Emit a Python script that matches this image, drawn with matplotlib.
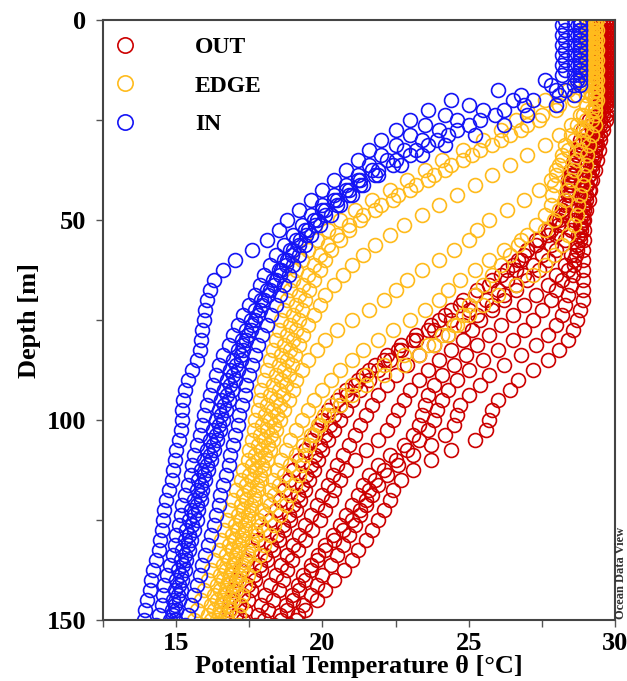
import matplotlib
matplotlib.use('Agg')
import matplotlib.pyplot as plt
from matplotlib.ticker import FixedLocator

plt.rcParams['font.family'] = ['Liberation Serif', 'DejaVu Serif']
plt.rcParams['font.weight'] = 'bold'

# depth levels [m] of the two sampling grids used by the casts
depth_a = [0, 2.5, 5, 7.5, 10, 12.5, 15, 17.5, 20, 22.5,
           25, 27.5, 30, 32.5, 35, 37.5, 40, 42.5, 45, 47.5,
           50, 52.5, 55, 57.5, 60, 62.5, 65, 67.5, 70, 72.5,
           75, 77.5, 80, 82.5, 85, 87.5, 90, 92.5, 95, 97.5,
           100, 102.5, 105, 107.5, 110, 112.5, 115, 117.5, 120, 122.5,
           125, 127.5, 130, 132.5, 135, 137.5, 140, 142.5, 145, 147.5,
           150]
depth_b = [1.25, 3.75, 6.25, 8.75, 11.25, 13.75, 16.25, 18.75, 21.25, 23.75,
           26.25, 28.75, 31.25, 33.75, 36.25, 38.75, 41.25, 43.75, 46.25, 48.75,
           51.25, 53.75, 56.25, 58.75, 61.25, 63.75, 66.25, 68.75, 71.25, 73.75,
           76.25, 78.75, 81.25, 83.75, 86.25, 88.75, 91.25, 93.75, 96.25, 98.75,
           101.25, 103.75, 106.25, 108.75, 111.25, 113.75, 116.25, 118.75, 121.25, 123.75,
           126.25, 128.75, 131.25, 133.75, 136.25, 138.75, 141.25, 143.75, 146.25, 148.75,
           151.25]

# ---------------- OUT (red) profiles: potential temperature [degC]
out_1 = [29.8, 29.8, 29.8, 29.8, 29.8, 29.8, 29.8, 29.8, 29.8, 29.75,
         29.7, 29.6, 29.5, 29.45, 29.4, 29.3, 29.2, 29.15, 29.1, 29.0,
         28.95, 28.95, 28.95, 28.9, 28.9, 28.9, 28.9, 28.9, 28.9, 28.8,
         28.7, 28.55, 28.4, 28.1, 27.7, 27.2, 26.7, 26.4, 26.0, 25.8,
         25.7, 25.6, 25.2, 24.4, 23.7, 23.1, 22.7, 22.4, 22.3, 22.1,
         21.9, 21.7, 21.5, 21.2, 21.0, 20.75, 20.4, 20.1, 19.8, 19.4,
         19.1]
out_9 = [29.8, 29.8, 29.8, 29.8, 29.8, 29.8, 29.8, 29.8, 29.8, 29.7,
         29.6, 29.5, 29.4, 29.3, 29.2, 29.1, 29.0, 28.95, 28.9, 28.85,
         28.8, 28.75, 28.7, 28.65, 28.6, 28.55, 28.5, 28.4, 28.3, 28.2,
         28.0, 27.7, 27.3, 26.8, 26.2, 25.7, 25.4, 25.0, 24.7, 24.6,
         24.5, 24.2, 23.7, 23.1, 22.6, 22.2, 21.9, 21.7, 21.5, 21.3,
         21.1, 20.9, 20.7, 20.5, 20.3, 20.0, 19.8, 19.6, 19.35, 19.15,
         18.9]
out_2 = [29.7, 29.7, 29.7, 29.7, 29.7, 29.7, 29.7, 29.7, 29.7, 29.6,
         29.5, 29.4, 29.35, 29.3, 29.25, 29.2, 29.15, 29.1, 29.0, 28.95,
         28.9, 28.85, 28.8, 28.7, 28.6, 28.4, 28.2, 28.0, 27.8, 27.5,
         27.2, 26.9, 26.5, 26.0, 25.5, 25.0, 24.6, 24.3, 24.1, 23.9,
         23.8, 23.6, 23.3, 22.9, 22.5, 22.1, 21.8, 21.6, 21.5, 21.3,
         21.0, 20.7, 20.4, 20.1, 19.8, 19.6, 19.4, 19.2, 19.0, 18.8,
         18.6]
out_7 = [29.7, 29.7, 29.7, 29.7, 29.7, 29.7, 29.7, 29.7, 29.7, 29.6,
         29.5, 29.4, 29.3, 29.2, 29.15, 29.1, 29.05, 29.0, 28.95, 28.9,
         28.85, 28.8, 28.7, 28.5, 28.3, 28.0, 27.7, 27.3, 26.9, 26.5,
         26.1, 25.7, 25.3, 24.9, 24.5, 24.1, 23.8, 23.6, 23.5, 23.4,
         23.3, 23.1, 22.8, 22.3, 21.9, 21.6, 21.4, 21.2, 21.0, 20.8,
         20.6, 20.35, 20.1, 19.85, 19.6, 19.35, 19.15, 18.95, 18.75, 18.55,
         18.35]
out_3 = [29.6, 29.6, 29.6, 29.6, 29.6, 29.6, 29.6, 29.6, 29.6, 29.5,
         29.4, 29.3, 29.2, 29.1, 29.05, 29.0, 28.95, 28.9, 28.8, 28.7,
         28.6, 28.5, 28.3, 28.0, 27.7, 27.4, 27.0, 26.6, 26.2, 25.8,
         25.4, 25.1, 24.8, 24.4, 24.0, 23.6, 23.3, 23.0, 22.8, 22.6,
         22.4, 22.2, 21.9, 21.5, 21.1, 20.8, 20.6, 20.4, 20.3, 20.1,
         19.9, 19.65, 19.4, 19.15, 18.95, 18.8, 18.65, 18.5, 18.3, 18.15,
         18.0]
out_4 = [29.6, 29.6, 29.6, 29.6, 29.6, 29.6, 29.6, 29.6, 29.6, 29.4,
         29.2, 29.0, 28.8, 28.7, 28.6, 28.55, 28.5, 28.45, 28.4, 28.3,
         28.2, 28.0, 27.8, 27.5, 27.2, 26.9, 26.6, 26.2, 25.8, 25.3,
         24.8, 24.3, 23.8, 23.3, 22.9, 22.5, 22.2, 21.9, 21.7, 21.5,
         21.3, 21.1, 20.9, 20.7, 20.5, 20.35, 20.2, 20.0, 19.8, 19.6,
         19.4, 19.2, 19.0, 18.8, 18.6, 18.4, 18.2, 18.05, 17.9, 17.8,
         17.7]
out_5 = [29.5, 29.5, 29.5, 29.5, 29.5, 29.5, 29.5, 29.5, 29.5, 29.3,
         29.1, 28.9, 28.8, 28.7, 28.6, 28.5, 28.45, 28.4, 28.3, 28.2,
         28.0, 27.7, 27.3, 27.0, 26.8, 26.6, 26.3, 26.0, 25.6, 25.0,
         24.4, 23.8, 23.2, 22.7, 22.3, 21.9, 21.6, 21.3, 21.0, 20.8,
         20.6, 20.4, 20.2, 20.0, 19.85, 19.7, 19.55, 19.4, 19.25, 19.1,
         18.9, 18.7, 18.5, 18.3, 18.1, 17.9, 17.7, 17.55, 17.45, 17.35,
         17.3]
out_8 = [29.5, 29.5, 29.5, 29.5, 29.5, 29.5, 29.5, 29.5, 29.5, 29.4,
         29.2, 29.0, 28.85, 28.7, 28.6, 28.5, 28.45, 28.4, 28.3, 28.2,
         28.05, 27.7, 27.3, 26.9, 26.5, 26.1, 25.7, 25.2, 24.7, 24.2,
         23.7, 23.2, 22.7, 22.2, 21.8, 21.4, 21.1, 20.85, 20.6, 20.4,
         20.25, 20.1, 19.9, 19.75, 19.6, 19.45, 19.3, 19.15, 19.0, 18.85,
         18.65, 18.45, 18.25, 18.05, 17.85, 17.65, 17.45, 17.3, 17.15, 17.05,
         16.95]
out_6 = [29.5, 29.5, 29.5, 29.5, 29.5, 29.5, 29.5, 29.5, 29.5, 29.5,
         29.5, 29.2, 29.0, 28.8, 28.6, 28.5, 28.4, 28.35, 28.3, 28.2,
         28.1, 27.8, 27.4, 27.0, 26.7, 26.3, 25.8, 25.3, 24.8, 24.4,
         24.0, 23.6, 23.1, 22.6, 22.1, 21.6, 21.2, 20.8, 20.5, 20.2,
         20.0, 19.8, 19.6, 19.4, 19.2, 19.0, 18.85, 18.7, 18.55, 18.4,
         18.2, 18.0, 17.8, 17.6, 17.4, 17.2, 17.05, 16.95, 16.85, 16.8,
         16.75]

# ---------------- EDGE (yellow) profiles
edge_1 = [29.0, 29.0, 29.0, 29.0, 29.0, 29.0, 28.8, 28.4, 27.6, 27.0,
          26.6, 26.1, 25.5, 24.8, 24.1, 23.5, 22.9, 22.3, 21.7, 21.1,
          20.6, 20.2, 19.8, 19.5, 19.3, 19.1, 19.0, 18.9, 18.8, 18.7,
          18.6, 18.5, 18.4, 18.3, 18.2, 18.1, 18.0, 17.9, 17.85, 17.8,
          17.7, 17.65, 17.6, 17.5, 17.45, 17.3, 17.2, 17.05, 16.95, 16.85,
          16.75, 16.65, 16.55, 16.45, 16.3, 16.2, 16.1, 15.95, 15.85, 15.7,
          15.6]
edge_8 = [29.1, 29.1, 29.1, 29.1, 29.1, 29.1, 29.0, 28.7, 28.1, 27.5,
          27.0, 26.4, 25.8, 25.1, 24.4, 23.8, 23.2, 22.6, 22.0, 21.4,
          20.9, 20.5, 20.2, 19.9, 19.7, 19.5, 19.35, 19.2, 19.1, 19.0,
          18.9, 18.8, 18.7, 18.6, 18.5, 18.4, 18.3, 18.2, 18.1, 18.05,
          17.95, 17.85, 17.8, 17.7, 17.6, 17.5, 17.4, 17.3, 17.2, 17.1,
          17.0, 16.9, 16.8, 16.7, 16.6, 16.5, 16.4, 16.3, 16.2, 16.1,
          16.0]
edge_2 = [29.2, 29.2, 29.2, 29.2, 29.2, 29.2, 29.2, 29.0, 28.6, 28.0,
          27.4, 26.8, 26.1, 25.4, 24.8, 24.2, 23.6, 23.0, 22.4, 21.8,
          21.3, 20.9, 20.6, 20.3, 20.1, 19.9, 19.7, 19.55, 19.4, 19.3,
          19.2, 19.1, 19.0, 18.9, 18.8, 18.7, 18.6, 18.5, 18.4, 18.3,
          18.2, 18.1, 18.0, 17.9, 17.8, 17.7, 17.6, 17.5, 17.4, 17.3,
          17.2, 17.1, 17.0, 16.9, 16.8, 16.7, 16.6, 16.5, 16.4, 16.3,
          16.2]
edge_3 = [29.2, 29.2, 29.2, 29.2, 29.2, 29.2, 29.2, 29.2, 29.0, 28.8,
          28.5, 28.1, 27.6, 27.0, 26.4, 25.8, 25.2, 24.6, 24.0, 23.4,
          22.8, 22.3, 21.8, 21.4, 21.0, 20.7, 20.4, 20.1, 19.9, 19.7,
          19.5, 19.35, 19.2, 19.05, 18.95, 18.85, 18.75, 18.65, 18.55, 18.45,
          18.35, 18.25, 18.15, 18.05, 17.95, 17.85, 17.75, 17.65, 17.55, 17.45,
          17.35, 17.25, 17.15, 17.05, 16.95, 16.85, 16.75, 16.65, 16.55, 16.45,
          16.35]
edge_4 = [29.3, 29.3, 29.3, 29.3, 29.3, 29.3, 29.3, 29.3, 29.3, 29.2,
          29.0, 28.8, 28.6, 28.4, 28.2, 28.0, 27.8, 27.4, 26.9, 26.3,
          25.7, 25.3, 25.0, 24.5, 24.0, 23.4, 22.9, 22.5, 22.1, 21.6,
          21.0, 20.5, 20.1, 19.8, 19.5, 19.3, 19.1, 19.0, 18.85, 18.7,
          18.55, 18.4, 18.3, 18.2, 18.1, 18.0, 17.9, 17.8, 17.7, 17.55,
          17.45, 17.35, 17.25, 17.1, 17.0, 16.9, 16.8, 16.7, 16.6, 16.5,
          16.4]
edge_5 = [29.4, 29.4, 29.4, 29.4, 29.4, 29.4, 29.4, 29.4, 29.4, 29.3,
          29.2, 29.0, 28.9, 28.8, 28.7, 28.6, 28.5, 28.4, 28.3, 28.1,
          27.9, 27.6, 26.8, 26.2, 25.7, 25.2, 24.7, 24.3, 24.0, 23.5,
          23.0, 22.4, 21.9, 21.4, 21.0, 20.6, 20.3, 20.0, 19.7, 19.5,
          19.3, 19.1, 18.9, 18.75, 18.6, 18.45, 18.3, 18.2, 18.1, 17.95,
          17.8, 17.7, 17.6, 17.45, 17.35, 17.25, 17.15, 17.05, 16.95, 16.85,
          16.75]
edge_6 = [29.0, 29.0, 29.0, 29.0, 29.0, 29.0, 29.0, 29.0, 29.0, 28.9,
          28.7, 28.5, 28.3, 28.2, 28.1, 28.0, 27.9, 27.85, 27.8, 27.6,
          27.3, 27.0, 26.7, 26.4, 26.1, 25.8, 25.5, 25.2, 25.0, 24.8,
          24.6, 24.3, 23.6, 22.8, 22.1, 21.5, 21.0, 20.6, 20.3, 20.05,
          19.85, 19.7, 19.55, 19.4, 19.3, 19.2, 19.05, 18.9, 18.75, 18.55,
          18.35, 18.2, 18.0, 17.85, 17.65, 17.45, 17.35, 17.25, 17.2, 17.15,
          17.1]
edge_7 = [29.3, 29.3, 29.3, 29.3, 29.3, 29.3, 29.3, 29.3, 29.3, 29.3,
          29.3, 29.2, 29.1, 29.05, 29.0, 28.95, 28.9, 28.8, 28.75, 28.7,
          28.6, 28.4, 28.2, 27.9, 27.6, 27.2, 26.6, 26.0, 25.5, 25.0,
          24.5, 24.1, 23.8, 23.3, 22.8, 22.1, 21.5, 21.0, 20.6, 20.2,
          19.9, 19.6, 19.35, 19.1, 18.9, 18.7, 18.5, 18.35, 18.2, 18.05,
          17.9, 17.75, 17.6, 17.45, 17.3, 17.15, 17.0, 16.9, 16.8, 16.7,
          16.6]

# ---------------- IN (blue) profiles
in_1 = [28.3, 28.3, 28.3, 28.3, 28.3, 28.3, 27.6, 26.0, 24.4, 23.6,
        23.0, 22.5, 22.0, 21.6, 21.2, 20.8, 20.4, 20.0, 19.6, 19.2,
        18.8, 18.5, 18.1, 17.6, 17.0, 16.6, 16.3, 16.15, 16.05, 16.0,
        15.95, 15.9, 15.85, 15.8, 15.7, 15.55, 15.4, 15.3, 15.25, 15.2,
        15.2, 15.15, 15.1, 15.0, 14.95, 14.9, 14.85, 14.75, 14.65, 14.6,
        14.55, 14.5, 14.45, 14.4, 14.3, 14.2, 14.15, 14.1, 14.0, 13.95,
        13.9]
in_2 = [28.2, 28.2, 28.2, 28.2, 28.2, 28.2, 27.8, 26.8, 25.0, 24.2,
        23.5, 23.0, 22.5, 22.0, 21.6, 21.2, 20.8, 20.4, 20.0, 19.6,
        19.3, 19.0, 18.7, 18.4, 18.2, 18.0, 17.85, 17.7, 17.5, 17.3,
        17.1, 16.95, 16.8, 16.6, 16.45, 16.35, 16.25, 16.15, 16.05, 15.95,
        15.9, 15.8, 15.7, 15.6, 15.55, 15.5, 15.4, 15.3, 15.2, 15.15,
        15.1, 15.0, 14.95, 14.9, 14.8, 14.7, 14.6, 14.55, 14.5, 14.4,
        14.3]
in_3 = [28.8, 28.8, 28.8, 28.8, 28.8, 28.8, 28.7, 28.0, 26.5, 25.5,
        24.6, 24.0, 23.4, 22.8, 22.2, 21.7, 21.2, 20.8, 20.4, 20.0,
        19.7, 19.4, 19.1, 18.9, 18.7, 18.5, 18.3, 18.1, 17.9, 17.7,
        17.55, 17.4, 17.25, 17.1, 16.95, 16.85, 16.75, 16.65, 16.55, 16.45,
        16.35, 16.25, 16.15, 16.05, 15.95, 15.85, 15.75, 15.7, 15.6, 15.5,
        15.45, 15.35, 15.3, 15.2, 15.15, 15.05, 15.0, 14.95, 14.9, 14.85,
        14.8]
in_6 = [28.6, 28.6, 28.6, 28.6, 28.6, 28.6, 28.6, 28.1, 26.9, 25.9,
        25.0, 24.3, 23.6, 23.0, 22.4, 21.8, 21.3, 20.9, 20.5, 20.1,
        19.75, 19.45, 19.2, 18.95, 18.75, 18.55, 18.35, 18.15, 17.95, 17.8,
        17.6, 17.45, 17.3, 17.2, 17.05, 16.95, 16.85, 16.75, 16.65, 16.55,
        16.45, 16.35, 16.25, 16.15, 16.05, 15.95, 15.85, 15.8, 15.7, 15.6,
        15.55, 15.45, 15.4, 15.3, 15.25, 15.15, 15.1, 15.05, 14.95, 14.9,
        14.85]
in_4 = [28.8, 28.8, 28.8, 28.8, 28.8, 28.8, 28.8, 28.3, 27.2, 26.2,
        25.4, 24.6, 23.9, 23.2, 22.5, 21.9, 21.3, 20.9, 20.5, 20.1,
        19.8, 19.5, 19.25, 19.0, 18.8, 18.6, 18.4, 18.2, 18.0, 17.85,
        17.7, 17.55, 17.4, 17.3, 17.2, 17.1, 17.0, 16.9, 16.8, 16.7,
        16.6, 16.5, 16.4, 16.3, 16.2, 16.1, 16.0, 15.9, 15.85, 15.75,
        15.7, 15.6, 15.5, 15.45, 15.35, 15.3, 15.2, 15.15, 15.1, 15.0,
        14.95]
in_5 = [28.8, 28.8, 28.8, 28.8, 28.8, 28.8, 28.8, 28.6, 28.0, 27.0,
        26.2, 25.2, 24.2, 23.4, 22.7, 21.9, 21.4, 21.0, 20.6, 20.3,
        19.9, 19.6, 19.4, 19.2, 19.0, 18.85, 18.7, 18.55, 18.4, 18.25,
        18.1, 17.95, 17.8, 17.7, 17.6, 17.5, 17.4, 17.35, 17.25, 17.15,
        17.1, 17.0, 16.95, 16.85, 16.8, 16.7, 16.6, 16.5, 16.45, 16.35,
        16.3, 16.2, 16.1, 16.0, 15.9, 15.8, 15.7, 15.6, 15.5, 15.4,
        15.3]

# (profile, depth grid) per region
out_casts = [(out_1, depth_a), (out_9, depth_b), (out_2, depth_a),
             (out_7, depth_b), (out_3, depth_a), (out_4, depth_b),
             (out_5, depth_a), (out_8, depth_b), (out_6, depth_a)]
edge_casts = [(edge_1, depth_a), (edge_8, depth_b), (edge_2, depth_a),
              (edge_3, depth_b), (edge_4, depth_a), (edge_7, depth_b),
              (edge_5, depth_a), (edge_6, depth_b)]
in_casts = [(in_1, depth_a), (in_2, depth_b), (in_3, depth_a),
            (in_6, depth_b), (in_4, depth_a), (in_5, depth_b)]

groups = [
    ('OUT', '#cc0000', out_casts),
    ('EDGE', '#ffbb1c', edge_casts),
    ('IN', '#1414f5', in_casts),
]

x_ticks = [15, 20, 25, 30]
x_minor = [12.5, 17.5, 22.5, 27.5]
y_ticks = [0, 50, 100, 150]
y_minor = [25, 75, 125]

fig = plt.figure(figsize=(6.27, 6.81), dpi=100)
ax = fig.add_axes([103 / 627, 1 - 620 / 681, 512 / 627, 600 / 681])

handles = []
for name, color, casts in groups:
    for i, (temp, dep) in enumerate(casts):
        ln, = ax.plot(temp, dep, linestyle='none', marker='o', ms=10,
                      mfc='none', mec=color, mew=1.2,
                      label=name if i == 0 else None)
        if i == 0:
            handles.append(ln)

ax.set_xlim(12.5, 30)
ax.set_ylim(150, 0)
ax.xaxis.set_major_locator(FixedLocator(x_ticks))
ax.xaxis.set_minor_locator(FixedLocator(x_minor))
ax.yaxis.set_major_locator(FixedLocator(y_ticks))
ax.yaxis.set_minor_locator(FixedLocator(y_minor))
ax.tick_params(axis='both', which='both', direction='out', length=5,
               width=1.0, color='#555555')
ax.tick_params(axis='x', which='major', labelsize=19, pad=4)
ax.tick_params(axis='y', which='major', labelsize=19, pad=7)
for lab in ax.get_xticklabels() + ax.get_yticklabels():
    lab.set_fontweight('bold')
for sp in ax.spines.values():
    sp.set_linewidth(1.5)
    sp.set_color('#444444')

ax.set_xlabel('Potential Temperature θ [°C]', fontsize=19, fontweight='bold',
              labelpad=0)
ax.set_ylabel('Depth [m]', fontsize=19, fontweight='bold', labelpad=4)

leg = ax.legend(handles=handles, labels=['OUT', 'EDGE', 'IN'],
                loc='upper left', frameon=False,
                prop={'weight': 'bold', 'size': 17},
                handlelength=0.5, handletextpad=2.7, borderaxespad=0.3,
                borderpad=0.4, labelspacing=0.72, markerscale=1.1)

fig.text(620.5 / 627, 1 - 573 / 681, 'Ocean Data View', rotation=90,
         ha='center', va='center', fontsize=9, fontweight='bold',
         color='#333333')

fig.savefig('out.png', dpi=100)
